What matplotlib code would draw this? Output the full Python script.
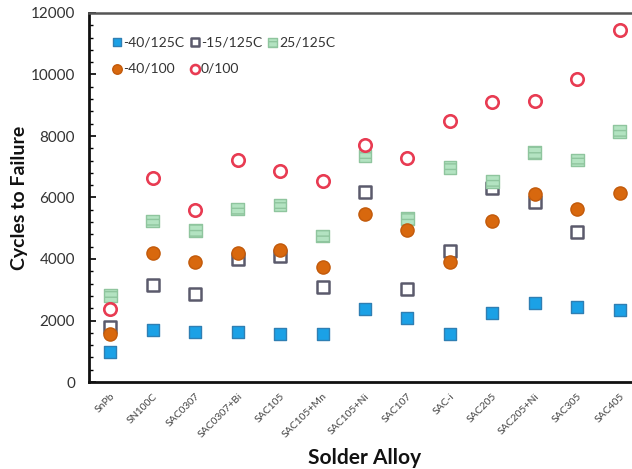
import matplotlib
matplotlib.use("Agg")
import matplotlib.pyplot as plt
import numpy as np
from matplotlib.ticker import MultipleLocator

plt.rcParams['font.family'] = ['Lato', 'DejaVu Sans']
plt.rcParams['hatch.linewidth'] = 1.0

alloys = ["SnPb", "SN100C", "SAC0307", "SAC0307+Bi", "SAC105", "SAC105+Mn",
          "SAC105+Ni", "SAC107", "SAC-i", "SAC205", "SAC205+Ni", "SAC305", "SAC405"]

m40_125 = [980, 1700, 1630, 1630, 1570, 1560, 2365, 2070, 1560, 2255, 2560, 2450, 2340]
m15_125 = [1800, 3155, 2870, 3990, 4100, 3080, 6180, 3015, 4270, 6320, 5845, 4870, np.nan]
p25_125 = [2805, 5235, 4930, 5625, 5755, 4750, 7350, 5310, 6970, 6515, 7470, 7220, 8140]
m40_100 = [1570, 4195, 3890, 4205, 4300, 3750, 5465, 4945, 3890, 5245, 6105, 5615, 6135]
p0_100 = [2385, 6645, 5595, 7210, 6860, 6545, 7720, 7285, 8500, 9095, 9140, 9865, 11445]

fig = plt.figure(figsize=(6.32, 4.69), dpi=100)
ax = fig.add_axes([89 / 632, 87 / 469, 552 / 632, 369 / 469])

x = np.arange(len(alloys))

h1 = ax.scatter(x, m40_125, marker='s', s=80, facecolor='#1ba1e6',
                edgecolor='#2f7fb3', linewidth=1.0, zorder=3, label='-40/125C')
h2 = ax.scatter(x, m15_125, marker='s', s=72, facecolor='white',
                edgecolor='#5b5a6c', linewidth=1.8, zorder=3, label='-15/125C')
h3 = ax.scatter(x, p25_125, marker='s', s=85, facecolor='#b3e3c1',
                edgecolor='#8fc59e', linewidth=1.0, hatch='---', zorder=4,
                label='25/125C')
h4 = ax.scatter(x, m40_100, marker='o', s=90, facecolor='#d8680e',
                edgecolor='#c25a0b', linewidth=1.0, zorder=5, label='-40/100')
h5 = ax.scatter(x, p0_100, marker='o', s=80, facecolor='white',
                edgecolor='#e83b52', linewidth=1.9, zorder=5, label='0/100')

ax.set_xlim(-0.5, len(alloys) - 0.5)
ax.set_ylim(0, 12000)
ax.yaxis.set_major_locator(MultipleLocator(2000))
ax.yaxis.set_minor_locator(MultipleLocator(400))
ax.set_xticks(x)
ax.set_xticklabels(alloys, rotation=45, ha='right', rotation_mode='anchor',
                   fontsize=7.5, color='#444444')
ax.tick_params(axis='x', length=0, pad=7)
ax.tick_params(axis='y', which='major', direction='in', length=5, width=1.2,
               labelsize=11, labelcolor='#333333', pad=10)
ax.tick_params(axis='y', which='minor', direction='in', length=3, width=1.0)

for side in ('left', 'bottom'):
    ax.spines[side].set_linewidth(2.0)
    ax.spines[side].set_color('#111111')
ax.spines['top'].set_linewidth(1.8)
ax.spines['top'].set_color('#555555')
ax.spines['right'].set_visible(False)

ax.set_ylabel('Cycles to Failure', fontsize=14, fontweight='bold',
              color='#111111', labelpad=2)
ax.set_xlabel('Solder Alloy', fontsize=15, fontweight='bold',
              color='#111111', labelpad=6)

handles = [h1, h4, h2, h5, h3]
labels = [h.get_label() for h in handles]
ax.legend(handles, labels, ncol=3, loc='upper left', bbox_to_anchor=(0.038, 0.945),
          frameon=False, fontsize=10, handlelength=0.6, handletextpad=0.15,
          columnspacing=0.45, labelspacing=1.05, markerscale=0.72,
          borderaxespad=0.0, borderpad=0.2, labelcolor='#333333')

fig.savefig('out.png', dpi=100)
